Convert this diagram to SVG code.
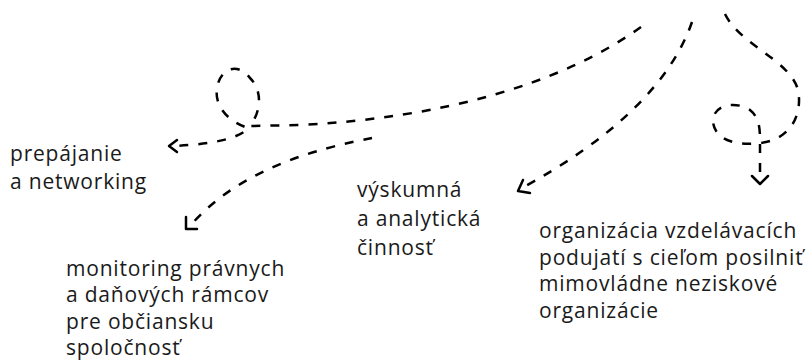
<svg xmlns="http://www.w3.org/2000/svg" width="810" height="363" viewBox="0 0 810 363">
<style>
.t{font-family:"Open Sans","DejaVu Sans",sans-serif;font-size:21px;letter-spacing:0.8px;fill:#1a1a1a}
.c{fill:none;stroke:#000;stroke-width:2.5;stroke-dasharray:9 10}
.h{fill:none;stroke:#000;stroke-width:2.5;stroke-linecap:round;stroke-linejoin:round}
</style>
<rect width="810" height="363" fill="#fff"/>
<g id="connectors">
<path class="c" d="M641,27 C560,85 440,118 300,125 L250,126 C262,110 262,90 250,78 C238,62 220,68 217,88 C214,108 230,122 248,128 C240,138 215,144 174,146"/>
<path class="h" d="M177,140 L169,146 L177,152"/>
<path class="c" d="M372,138 C320,148 240,168 190,226"/>
<path class="h" d="M186,217 L186,229 L197,229"/>
<path class="c" d="M692,22 C670,85 610,140 522,188"/>
<path class="h" d="M523,180 L518,191 L530,193"/>
<path class="c" d="M725,14 C740,45 790,60 798,90 C803,115 790,140 760,143 C735,146 715,140 713,122 C712,105 735,100 750,110 C760,118 760,130 760,143 L760,180"/>
<path class="h" d="M752,176 L760,184 L768,176"/>
</g>
<g id="n1"><text class="t" x="10" y="161">prepájanie</text><text class="t" x="10" y="189">a networking</text></g>
<g id="n2"><text class="t" x="357" y="197">výskumná</text><text class="t" x="357" y="226">a analytická</text><text class="t" x="357" y="255">činnosť</text></g>
<g id="n3"><text class="t" x="66" y="276">monitoring právnych</text><text class="t" x="66" y="302">a daňových rámcov</text><text class="t" x="66" y="328.5">pre občiansku</text><text class="t" x="66" y="355">spoločnosť</text></g>
<g id="n4"><text class="t" x="539" y="238">organizácia vzdelávacích</text><text class="t" x="539" y="264.5">podujatí s cieľom posilniť</text><text class="t" x="539" y="291">mimovládne neziskové</text><text class="t" x="539" y="317.5">organizácie</text></g>
</svg>
